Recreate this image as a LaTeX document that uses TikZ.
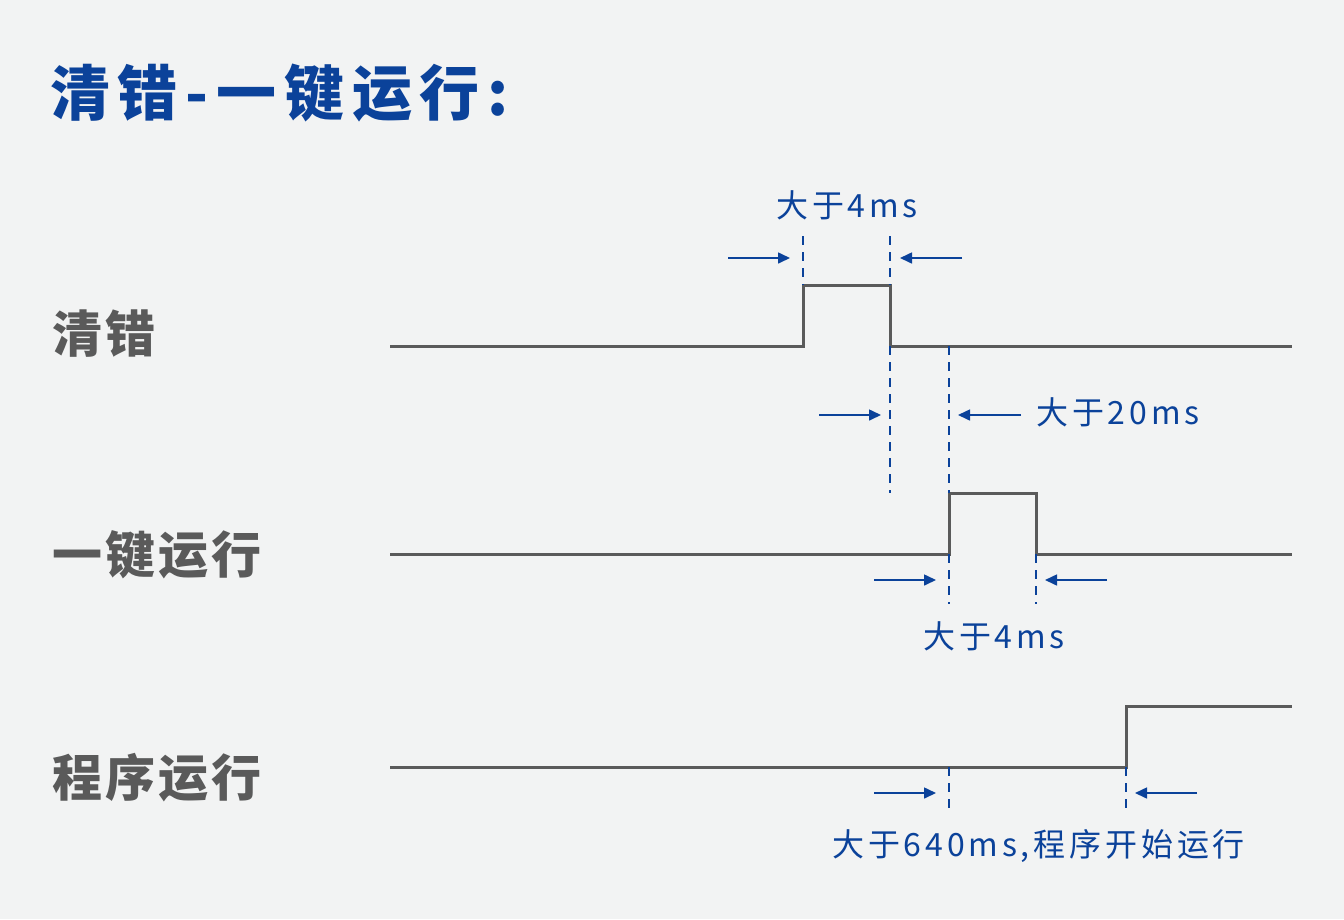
\documentclass[tikz,border=0pt]{standalone}
\usepackage{fontspec}
\usepackage{xcolor}
\newfontfamily\cjk{Noto Sans CJK SC}
\definecolor{bgcol}{HTML}{F2F3F3}
\definecolor{sigblue}{HTML}{0B429A}
\definecolor{siggray}{HTML}{5A5A5A}
\usetikzlibrary{arrows.meta}

\tikzset{
  wave/.style={draw=siggray, line width=3pt, line join=miter},
  guide/.style={draw=sigblue, line width=1.6pt, dash pattern=on 9pt off 7pt},
  pointer/.style={draw=sigblue, line width=1.6pt, -{Triangle[length=12pt,width=11pt]}},
  note/.style={text=sigblue, font=\cjk\addfontfeatures{LetterSpace=12}\fontsize{32}{32}\selectfont, inner sep=0pt},
  signame/.style={text=siggray, font=\cjk\bfseries\addfontfeatures{LetterSpace=6}\fontsize{50}{50}\selectfont, anchor=west, inner sep=0pt}
}

\begin{document}
\begin{tikzpicture}[x=1pt,y=-1pt]
\fill[bgcol] (0,0) rectangle (1344,919);
\useasboundingbox (0,0) rectangle (1344,919);
\node (title) [anchor=west, inner sep=0pt, text=sigblue, font=\cjk\bfseries\addfontfeatures{LetterSpace=13}\fontsize{60}{60}\selectfont] at (50,93) {清错-一键运行:};
\node (clr) [signame] at (52,334) {清错};
\node (key) [signame] at (52,555) {一键运行};
\node (prog) [signame] at (52,778) {程序运行};
% waveforms
\coordinate (a0) at (390,346);  \coordinate (a1) at (803,346);
\coordinate (a2) at (803,285);  \coordinate (a3) at (890,285);
\coordinate (a4) at (890,346);  \coordinate (a5) at (1292,346);
\coordinate (b0) at (390,554);  \coordinate (b1) at (949,554);
\coordinate (b2) at (949,493);  \coordinate (b3) at (1036,493);
\coordinate (b4) at (1036,554); \coordinate (b5) at (1292,554);
\coordinate (c0) at (390,767);  \coordinate (c1) at (1126,767);
\coordinate (c2) at (1126,706); \coordinate (c3) at (1292,706);
\draw[wave] (a0) -- (a1) -- (a2) -- (a3) -- (a4) -- (a5);
\draw[wave] (b0) -- (b1) -- (b2) -- (b3) -- (b4) -- (b5);
\draw[wave] (c0) -- (c1) -- (c2) -- (c3);
% guides
\coordinate (g1) at (803,236); \coordinate (g2) at (890,236);
\coordinate (g3) at (890,493); \coordinate (g4) at (949,493);
\coordinate (g5) at (949,604); \coordinate (g6) at (1036,604);
\coordinate (g7) at (949,814); \coordinate (g8) at (1126,814);
\coordinate (g9) at (949,346); \coordinate (g10) at (949,767);
\draw[guide] (g1) -- (a2);
\draw[guide] (g2) -- (a3);
\draw[guide] (a4) -- (g3);
\draw[guide] (g9) -- (g4);
\draw[guide] (b1) -- (g5);
\draw[guide] (b4) -- (g6);
\draw[guide] (g10) -- (g7);
\draw[guide] (c1) -- (g8);
% pointers
\foreach \y/\l/\r/\ll/\rr in {258/728/790/962/900, 415/819/881/1021/958, 580/874/936/1107/1045, 793/874/936/1197/1135}{
  \coordinate (p\y) at (\l,\y); \coordinate (q\y) at (\r,\y);
  \coordinate (s\y) at (\ll,\y); \coordinate (t\y) at (\rr,\y);
  \draw[pointer] (p\y) -- (q\y);
  \draw[pointer] (s\y) -- (t\y);}
\node (t4a) [note, anchor=west] at (776,205) {大于4ms};
\node (t20) [note, anchor=west] at (1036,412) {大于20ms};
\node (t4b) [note, anchor=west] at (923,636) {大于4ms};
\node (t640) [note, anchor=west] at (832,846) {大于640ms,程序开始运行};
\end{tikzpicture}
\end{document}
